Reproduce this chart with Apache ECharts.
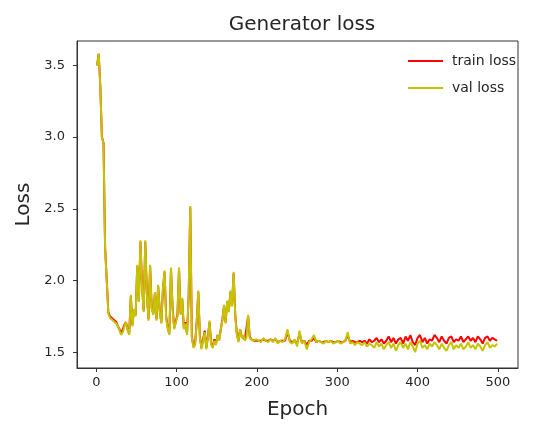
<!DOCTYPE html>
<html>
<head>
<meta charset="utf-8">
<script src="https://cdn.jsdelivr.net/npm/echarts@6/dist/echarts.min.js"></script>
<style>
  html, body { margin: 0; padding: 0; background: #fff; }
  #chart { width: 545px; height: 425px; }
</style>
</head>
<body>
<div id="chart"></div>
<script>
// epochs sampled from the figure (every 2 early, every 3 later)
const epochs = [
  1, 3, 5, 7, 9, 11, 13, 15, 17, 19,
  21, 23, 25, 27, 29, 31, 33, 35, 37, 39,
  41, 43, 45, 47, 49, 51, 53, 55, 57, 59,
  61, 63, 65, 67, 69, 71, 73, 75, 77, 79,
  81, 83, 85, 87, 89, 91, 93, 95, 97, 99,
  101, 103, 105, 107, 109, 111, 113, 115, 117, 119,
  121, 123, 125, 127, 129, 131, 133, 135, 137, 139,
  141, 143, 145, 147, 149, 151, 153, 155, 157, 159,
  161, 163, 165, 167, 169, 171, 173, 175, 177, 179,
  181, 183, 185, 187, 189, 191, 193, 195, 197, 199,
  202, 205, 208, 211, 214, 217, 220, 223, 226, 229,
  232, 235, 238, 241, 244, 247, 250, 253, 256, 259,
  262, 265, 268, 271, 274, 277, 280, 283, 286, 289,
  292, 295, 298, 301, 304, 307, 310, 313, 316, 319,
  322, 325, 328, 331, 334, 337, 340, 343, 346, 349,
  352, 355, 358, 361, 364, 367, 370, 373, 376, 379,
  382, 385, 388, 391, 394, 397, 400, 403, 406, 409,
  412, 415, 418, 421, 424, 427, 430, 433, 436, 439,
  442, 445, 448, 451, 454, 457, 460, 463, 466, 469,
  472, 475, 478, 481, 484, 487, 490, 493, 496, 499
];

const trainLoss = [
  3.50, 3.58, 3.36, 3.00, 2.96, 2.23, 2.01, 1.78, 1.75, 1.74,
  1.73, 1.73, 1.71, 1.68, 1.66, 1.63, 1.64, 1.69, 1.71, 1.66,
  1.63, 1.89, 1.69, 1.80, 1.76, 2.10, 1.86, 2.27, 1.96, 1.79,
  2.27, 1.91, 1.73, 2.10, 1.81, 1.77, 1.91, 1.73, 1.96, 1.79,
  1.71, 1.94, 2.06, 1.75, 1.67, 1.63, 2.08, 1.81, 1.67, 1.66,
  1.76, 2.08, 1.77, 1.87, 1.67, 1.71, 1.63, 1.89, 2.51, 1.61,
  1.54, 1.56, 1.71, 1.92, 1.61, 1.53, 1.59, 1.65, 1.53, 1.61,
  1.71, 1.56, 1.54, 1.59, 1.56, 1.62, 1.59, 1.66, 1.73, 1.82,
  1.71, 1.85, 1.79, 1.92, 1.83, 2.05, 1.76, 1.63, 1.58, 1.66,
  1.61, 1.62, 1.59, 1.60, 1.75, 1.61, 1.59, 1.59, 1.58, 1.59,
  1.58, 1.58, 1.59, 1.58, 1.58, 1.59, 1.58, 1.59, 1.57, 1.58,
  1.58, 1.58, 1.64, 1.58, 1.57, 1.58, 1.56, 1.63, 1.57, 1.58,
  1.55, 1.58, 1.58, 1.60, 1.57, 1.58, 1.57, 1.57, 1.58, 1.57,
  1.58, 1.57, 1.57, 1.58, 1.57, 1.57, 1.58, 1.62, 1.57, 1.58,
  1.57, 1.57, 1.58, 1.57, 1.58, 1.56, 1.59, 1.57, 1.58, 1.60,
  1.57, 1.59, 1.56, 1.58, 1.61, 1.57, 1.60, 1.56, 1.59, 1.60,
  1.56, 1.61, 1.58, 1.62, 1.57, 1.55, 1.60, 1.62, 1.57, 1.60,
  1.56, 1.59, 1.58, 1.62, 1.60, 1.57, 1.61, 1.58, 1.56, 1.60,
  1.61, 1.57, 1.59, 1.58, 1.61, 1.57, 1.59, 1.61, 1.58, 1.60,
  1.57, 1.61, 1.59, 1.56, 1.60, 1.61, 1.58, 1.60, 1.59, 1.58
];

const valLoss = [
  3.50, 3.58, 3.35, 3.00, 2.95, 2.22, 2.00, 1.77, 1.74, 1.74,
  1.72, 1.73, 1.70, 1.68, 1.65, 1.62, 1.64, 1.68, 1.71, 1.65,
  1.62, 1.90, 1.68, 1.80, 1.75, 2.11, 1.85, 2.28, 1.95, 1.78,
  2.28, 1.90, 1.72, 2.11, 1.80, 1.76, 1.92, 1.72, 1.97, 1.78,
  1.70, 1.95, 2.07, 1.74, 1.66, 1.62, 2.09, 1.80, 1.66, 1.65,
  1.75, 2.09, 1.76, 1.88, 1.66, 1.70, 1.62, 1.90, 2.52, 1.60,
  1.53, 1.55, 1.70, 1.93, 1.60, 1.52, 1.58, 1.64, 1.52, 1.60,
  1.72, 1.55, 1.53, 1.58, 1.55, 1.62, 1.58, 1.66, 1.72, 1.83,
  1.70, 1.86, 1.78, 1.93, 1.82, 2.06, 1.75, 1.62, 1.57, 1.66,
  1.60, 1.62, 1.58, 1.60, 1.76, 1.60, 1.59, 1.58, 1.58, 1.59,
  1.58, 1.57, 1.60, 1.58, 1.57, 1.59, 1.57, 1.60, 1.56, 1.58,
  1.57, 1.59, 1.66, 1.57, 1.56, 1.59, 1.54, 1.65, 1.56, 1.58,
  1.52, 1.57, 1.59, 1.62, 1.57, 1.58, 1.57, 1.56, 1.58, 1.57,
  1.58, 1.56, 1.57, 1.58, 1.56, 1.57, 1.58, 1.64, 1.56, 1.57,
  1.55, 1.57, 1.56, 1.55, 1.57, 1.54, 1.56, 1.55, 1.53, 1.57,
  1.54, 1.56, 1.52, 1.55, 1.57, 1.53, 1.56, 1.51, 1.55, 1.57,
  1.53, 1.56, 1.52, 1.57, 1.54, 1.50, 1.56, 1.58, 1.53, 1.55,
  1.52, 1.56, 1.54, 1.57, 1.55, 1.52, 1.56, 1.53, 1.51, 1.55,
  1.57, 1.52, 1.55, 1.53, 1.56, 1.52, 1.54, 1.57, 1.53, 1.55,
  1.52, 1.56, 1.54, 1.51, 1.55, 1.57, 1.53, 1.55, 1.54, 1.56
];

const xTicks = [0, 100, 200, 300, 400, 500];
const yTicks = [1.5, 2.0, 2.5, 3.0, 3.5];

const chart = echarts.init(document.getElementById("chart"), null, { renderer: "canvas" });
const font = "DejaVu Sans";
const ink = "#262626";

const option = {
  backgroundColor: "#ffffff",
  animation: false,
  textStyle: { fontFamily: font },
  title: {
    text: "Generator loss",
    left: 297,
    textAlign: "center",
    top: 10,
    textStyle: { fontFamily: font, fontSize: 20, fontWeight: "normal", color: ink },
  },
  legend: {
    orient: "vertical",
    left: 403,
    top: 49,
    itemWidth: 35,
    itemHeight: 2,
    itemGap: 13,
    icon: "rect",
    textStyle: { fontFamily: font, fontSize: 14, color: ink, padding: [0, 0, 0, 4] },
    data: ["train loss", "val loss"],
  },
  grid: {
    left: 77,
    right: 27,
    top: 41,
    bottom: 53,
    show: true,
    borderColor: "#333",
    borderWidth: 1,
    backgroundColor: "transparent",
  },
  xAxis: {
    type: "value",
    min: -24,
    max: 525,
    name: "Epoch",
    nameLocation: "middle",
    nameGap: 32,
    nameTextStyle: { fontFamily: font, fontSize: 20, color: ink },
    axisLine: { show: true, onZero: false, lineStyle: { color: "#333" } },
    axisTick: { show: true, length: 4, customValues: xTicks, lineStyle: { color: "#333" } },
    axisLabel: { margin: 8, fontSize: 13, color: ink, customValues: xTicks },
    splitLine: { show: false },
  },
  yAxis: {
    type: "value",
    min: 1.39,
    max: 3.67,
    name: "Loss",
    nameLocation: "middle",
    nameGap: 42,
    nameRotate: 90,
    nameTextStyle: { fontFamily: font, fontSize: 20, color: ink },
    axisLine: { show: true, onZero: false, lineStyle: { color: "#333" } },
    axisTick: { show: true, length: 4, customValues: yTicks, lineStyle: { color: "#333" } },
    axisLabel: {
      margin: 12,
      fontSize: 13,
      color: ink,
      customValues: yTicks,
      formatter: (v) => v.toFixed(1),
    },
    splitLine: { show: false },
  },
  series: [
    {
      name: "train loss",
      type: "line",
      symbol: "none",
      itemStyle: { color: "#ff0000" },
      lineStyle: { color: "#ff0000", width: 2 },
      data: epochs.map((e, i) => [e, trainLoss[i]]),
    },
    {
      name: "val loss",
      type: "line",
      symbol: "none",
      itemStyle: { color: "#c4c400" },
      lineStyle: { color: "#c4c400", width: 2 },
      data: epochs.map((e, i) => [e, valLoss[i]]),
    },
  ],
};

chart.setOption(option);
window.addEventListener("resize", () => chart.resize());
</script>
</body>
</html>
